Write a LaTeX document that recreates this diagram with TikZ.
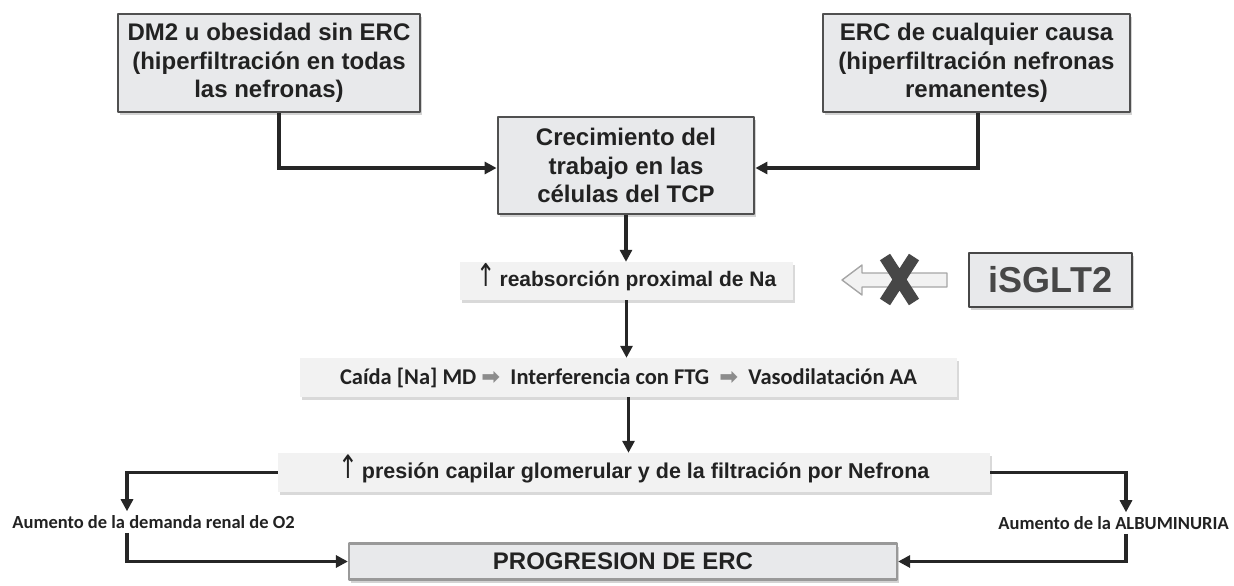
\documentclass[tikz,border=0pt]{standalone}
\usepackage{fontspec}
\setmainfont{Liberation Sans}
\newfontfamily\calfont{Carlito}
\newfontfamily\symfont{DejaVu Sans}
\usetikzlibrary{arrows.meta,shadows}
\definecolor{boxgray}{HTML}{E8E9EB}
\definecolor{palegray}{HTML}{F2F2F2}
\definecolor{framegray}{HTML}{505050}
\definecolor{txtgray}{HTML}{222222}
\definecolor{xgray}{HTML}{474747}
\newcommand{\grayarrow}{{\symfont\color{gray!90}➡}}
\newcommand{\uparr}{{\symfont\mdseries\smash{\scalebox{1.1}[1.5]{↑}}}}

\begin{document}
\begin{tikzpicture}[line cap=round,line join=round,x=1pt,y=-1pt,
  graybox/.style={draw=framegray,line width=2.8pt,fill=boxgray,align=center,
    font=\bfseries\fontsize{24}{28.5}\selectfont,text=txtgray,inner sep=0pt,
    drop shadow={shadow xshift=2pt,shadow yshift=-3pt,opacity=0.35}},
  flatbox/.style={fill=palegray,inner sep=0pt,text=txtgray,
    drop shadow={shadow xshift=2pt,shadow yshift=-3pt,opacity=0.3}},
  conn/.style={line width=3.2pt,line cap=butt,line join=miter,draw=black!85,
    -{Triangle[length=12pt,width=12pt]}},
  note/.style={font=\calfont\bfseries\fontsize{18.5}{20}\selectfont,text=txtgray,
    inner xsep=0pt,inner ysep=4pt}]
\useasboundingbox (0,0) rectangle (1234,586);
% causes
\node[graybox,minimum width=302,minimum height=98] (dm) at (269,63)
  {DM2 u obesidad sin ERC\\(hiperfiltración en todas\\las nefronas)};
\node[graybox,minimum width=307,minimum height=98] (erc) at (976.5,63)
  {ERC de cualquier causa\\(hiperfiltración nefronas\\remanentes)};
\node[graybox,minimum width=256,minimum height=97] (crec) at (626,165.5)
  {Crecimiento del\\trabajo en las\\células del TCP};
% central chain
\node[flatbox,minimum width=333,minimum height=38,
  font=\bfseries\fontsize{21}{24}\selectfont] (reab) at (626.5,281)
  {\uparr\,reabsorción proximal de Na};
\node[graybox,draw=xgray,line width=2.2pt,minimum width=163,minimum height=54,
  text=xgray,font=\bfseries\fontsize{36}{40}\selectfont] (isglt) at (1050.5,280) {iSGLT2};
\node[flatbox,minimum width=657,minimum height=39,
  font=\calfont\bfseries\fontsize{22.5}{26}\selectfont] (caida) at (628.5,377.5)
  {Caída [Na] MD \grayarrow\ \ Interferencia con FTG \ \grayarrow\ \ Vasodilatación AA};
\node[flatbox,minimum width=712,minimum height=39,
  font=\bfseries\fontsize{21.5}{24}\selectfont] (pres) at (634,472.5)
  {\uparr\,presión capilar glomerular y de la filtración por Nefrona};
\node[graybox,draw=gray!80,line width=2.2pt,minimum width=548,minimum height=36]
  (prog) at (623,561.5) {PROGRESION DE ERC};
\node[note] (demanda) at (153.5,522) {Aumento de la demanda renal de O2};
\node[note] (albu) at (1113.5,523) {Aumento de la ALBUMINURIA};
% blocked arrow
\draw[draw=gray!70,fill=palegray,line width=1.4pt] (947,273) -- (862,273) -- (862,265)
  -- (842,280) -- (862,295) -- (862,287) -- (947,287) -- cycle;
\draw[xgray,line width=12pt,line cap=butt] (885,257) -- (914,302) (914,257) -- (885,302);
% connectors
\draw[conn] ([xshift=10pt]dm.south) |- ([yshift=-2.5pt]crec.west);
\draw[conn] ([xshift=1.5pt]erc.south) |- ([yshift=-2.5pt]crec.east);
\draw[conn] (crec.south) -- (crec.south |- reab.north);
\draw[conn] (reab.south) -- (reab.south |- caida.north);
\draw[conn] (caida.south) -- (caida.south |- pres.north);
\draw[conn] (pres.west) -| ([xshift=-26.5pt]demanda.north);
\draw[conn] ([xshift=-26.5pt]demanda.south) |- (prog.west);
\draw[conn] (pres.east) -| ([xshift=12.5pt]albu.north);
\draw[conn] ([xshift=12.5pt]albu.south) |- (prog.east);
\end{tikzpicture}
\end{document}
